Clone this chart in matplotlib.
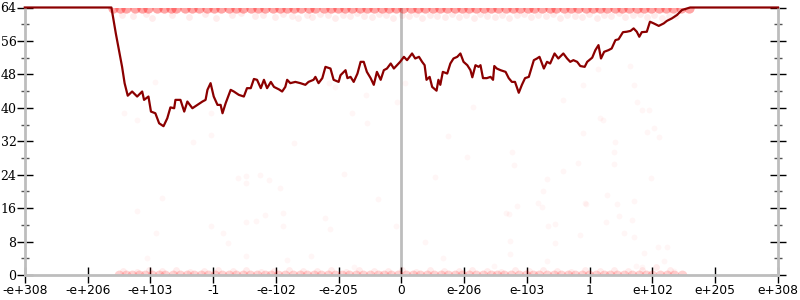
import matplotlib
matplotlib.use("Agg")
import matplotlib.pyplot as plt
from matplotlib.ticker import MultipleLocator

# ---- data (x in tick-position units: 0 .. 12) ----
tick_labels = ["-e+308", "-e+206", "-e+103", "-1", "-e-102", "-e-205", "0",
               "e-206", "e-103", "1", "e+102", "e+205", "e+308"]

line_x = [0.00, 1.38, 1.45, 1.50, 1.55, 1.59, 1.64, 1.71, 1.79, 1.87, 1.90, 1.97,
          2.01, 2.08, 2.14, 2.21, 2.27, 2.32, 2.38, 2.40, 2.48, 2.54, 2.59, 2.67,
          2.75, 2.83, 2.88, 2.91, 2.96, 3.01, 3.07, 3.12, 3.15, 3.20, 3.28, 3.33,
          3.41, 3.49, 3.54, 3.60, 3.65, 3.70, 3.76, 3.81, 3.86, 3.92, 3.97, 4.05,
          4.10, 4.15, 4.18, 4.23, 4.31, 4.39, 4.47, 4.52, 4.60, 4.63, 4.68, 4.74,
          4.79, 4.87, 4.92, 5.00, 5.03, 5.11, 5.14, 5.19, 5.24, 5.30, 5.35, 5.40,
          5.45, 5.51, 5.56, 5.61, 5.67, 5.72, 5.77, 5.83, 5.88, 5.93, 5.98, 6.04,
          6.09, 6.17, 6.22, 6.28, 6.33, 6.37, 6.40, 6.45, 6.49, 6.56, 6.59, 6.62,
          6.66, 6.73, 6.78, 6.83, 6.89, 6.94, 6.99, 7.05, 7.10, 7.13, 7.18, 7.23,
          7.26, 7.30, 7.36, 7.42, 7.46, 7.48, 7.52, 7.58, 7.66, 7.71, 7.76, 7.81,
          7.87, 7.92, 7.97, 8.03, 8.11, 8.16, 8.20, 8.24, 8.27, 8.32, 8.37, 8.44,
          8.50, 8.58, 8.64, 8.69, 8.74, 8.80, 8.85, 8.92, 8.96, 9.04, 9.09, 9.14,
          9.18, 9.23, 9.30, 9.35, 9.41, 9.46, 9.53, 9.59, 9.65, 9.70, 9.75, 9.79,
          9.83, 9.91, 9.96, 10.02, 10.10, 10.18, 10.23, 10.31, 10.39, 10.47, 10.60, 12.00]
line_y = [64, 64, 57.8, 53.8, 49.8, 45.9, 42.9, 43.9, 42.7, 43.9, 41.9, 42.7,
          39.1, 38.7, 36.3, 35.6, 37.5, 40.1, 39.9, 41.9, 41.9, 39.1, 41.5, 39.9,
          40.7, 41.5, 41.9, 44.3, 45.9, 42.7, 40.7, 40.7, 38.7, 41.1, 44.3, 43.9,
          43.1, 42.7, 44.7, 44.7, 46.9, 46.7, 44.7, 46.7, 44.7, 46.2, 45.0, 44.4,
          43.9, 45.0, 46.7, 45.9, 46.2, 45.9, 45.5, 46.2, 46.7, 47.4, 45.9, 47.1,
          49.8, 49.4, 46.7, 46.2, 47.8, 49.0, 47.1, 47.4, 46.2, 48.2, 51.0, 51.0,
          48.6, 47.1, 45.5, 48.6, 46.7, 49.0, 49.4, 50.6, 49.4, 50.2, 51.0, 52.2,
          51.4, 53.0, 51.8, 52.2, 51.0, 50.2, 46.7, 47.4, 45.0, 44.1, 46.7, 45.5,
          48.6, 48.2, 50.6, 51.8, 52.2, 53.0, 51.0, 50.2, 49.0, 47.3, 50.2, 49.8,
          50.2, 47.1, 47.1, 47.4, 46.7, 50.0, 49.4, 49.0, 48.6, 47.1, 46.2, 46.2,
          43.6, 45.5, 47.1, 47.4, 51.4, 51.8, 52.2, 50.6, 49.4, 51.0, 50.6, 53.0,
          51.8, 53.0, 51.8, 51.0, 51.4, 51.0, 50.0, 49.8, 51.0, 52.0, 53.8, 55.0,
          51.8, 53.4, 53.8, 54.2, 56.2, 56.4, 58.1, 58.2, 58.4, 59.0, 58.2, 57.0,
          58.1, 58.2, 60.6, 60.2, 59.6, 60.2, 60.8, 61.4, 62.2, 63.4, 64, 64]

# dense row of points at the top (error 64)
top_x = [1.40, 1.52, 1.61, 1.75, 1.86, 1.97, 2.10, 2.21, 2.33, 2.41, 2.55, 2.66,
         2.78, 2.90, 3.01, 3.12, 3.25, 3.36, 3.47, 3.60, 3.71, 3.82, 3.95, 4.06,
         4.18, 4.29, 4.40, 4.52, 4.63, 4.76, 4.88, 4.99, 5.10, 5.22, 5.34, 5.45,
         5.57, 5.69, 5.80, 5.92, 6.03, 6.15, 6.27, 6.38, 6.50, 6.61, 6.73, 6.85,
         6.96, 7.08, 7.19, 7.31, 7.43, 7.54, 7.66, 7.78, 7.89, 8.01, 8.12, 8.24,
         8.36, 8.47, 8.59, 8.70, 8.82, 8.94, 9.05, 9.17, 9.28, 9.40, 9.52, 9.63,
         9.75, 9.86, 9.98, 10.10, 10.21, 10.33, 10.45, 10.58]
top_y = [64] * len(top_x)

# fainter points just under the top
top2_x = [1.55, 1.72, 1.93, 2.02, 2.35, 2.61, 2.87, 3.05, 3.30, 3.44, 3.66, 3.79,
          3.98, 4.11, 4.26, 4.35, 4.49, 4.58, 4.71, 4.83, 4.95, 5.07, 5.18, 5.29,
          5.41, 5.53, 5.64, 5.76, 5.87, 6.01, 6.12, 6.24, 6.33, 6.46, 6.57, 6.69,
          6.80, 6.92, 7.03, 7.15, 7.26, 7.37, 7.49, 7.61, 7.72, 7.84, 7.95, 8.07,
          8.18, 8.30, 8.41, 8.53, 8.64, 8.76, 8.88, 8.99, 9.11, 9.22, 9.34, 9.46,
          9.57, 9.69, 9.80, 9.92, 10.03, 10.15, 10.27, 10.38]
top2_y = [62.3, 62.0, 62.4, 61.6, 62.2, 61.8, 62.5, 61.5, 62.1, 62.6, 61.9, 62.2,
          61.7, 62.4, 62.0, 61.5, 62.3, 61.8, 62.5, 62.1, 61.6, 62.3, 61.9, 62.6,
          62.0, 61.7, 62.4, 62.1, 61.5, 62.3, 61.9, 62.5, 61.6, 62.2, 62.0, 61.7,
          62.4, 61.8, 62.2, 61.6, 62.5, 62.0, 61.8, 62.3, 61.5, 62.1, 62.4, 61.7,
          62.2, 61.9, 62.5, 61.6, 62.3, 62.0, 61.8, 62.4, 61.5, 62.2, 61.9, 62.6,
          61.7, 62.1, 62.4, 61.8, 62.2, 61.6, 62.0, 61.9]

# dense row of points at the bottom (error 0)
bot_x = [1.50, 1.61, 1.70, 1.82, 1.91, 2.03, 2.14, 2.24, 2.36, 2.47, 2.58, 2.69,
         2.80, 2.92, 3.03, 3.14, 3.26, 3.37, 3.48, 3.59, 3.70, 3.82, 3.93, 4.04,
         4.15, 4.27, 4.38, 4.49, 4.60, 4.72, 4.83, 4.94, 5.05, 5.17, 5.28, 5.39,
         5.50, 5.62, 5.73, 5.84, 5.95, 6.07, 6.18, 6.29, 6.40, 6.52, 6.63, 6.74,
         6.85, 6.97, 7.08, 7.19, 7.30, 7.42, 7.53, 7.64, 7.75, 7.87, 7.98, 8.09,
         8.20, 8.32, 8.43, 8.54, 8.65, 8.77, 8.88, 8.99, 9.10, 9.22, 9.33, 9.44,
         9.55, 9.67, 9.78, 9.89, 10.00, 10.12, 10.23, 10.35, 10.47]
bot_y = [0] * len(bot_x)

bot2_x = [1.57, 1.78, 1.98, 2.19, 2.41, 2.63, 2.85, 3.08, 3.31, 3.53, 3.76, 3.97,
          4.21, 4.43, 4.66, 4.88, 5.11, 5.33, 5.56, 5.78, 6.01, 6.23, 6.46, 6.68,
          6.91, 7.13, 7.36, 7.58, 7.81, 8.03, 8.26, 8.48, 8.71, 8.93, 9.16, 9.38,
          9.61, 9.83, 10.06, 10.28]
bot2_y = [1.0, 0.8, 1.2, 0.9, 1.1, 0.8, 1.0, 1.2, 0.9, 1.1, 0.8, 1.0,
          1.2, 0.9, 1.0, 1.1, 0.8, 1.2, 0.9, 1.0, 1.1, 0.8, 1.2, 1.0,
          0.9, 1.1, 1.0, 0.8, 1.2, 0.9, 1.1, 1.0, 0.8, 1.2, 0.9, 1.1,
          1.0, 1.3, 2.0, 1.2]

# sparse scattered points
mid_x = [1.78, 2.19, 2.09, 1.95, 2.96, 3.16, 3.23, 3.39, 3.53, 3.53, 3.75, 3.89,
         4.07, 3.52, 3.69, 3.82, 4.12, 4.12, 3.52, 4.17, 4.56, 4.79, 4.86, 5.09,
         5.63, 5.92, 5.25, 2.07, 1.58, 1.78, 2.97, 2.96, 2.68, 4.29, 4.84, 5.43,
         5.45, 5.22, 5.93, 4.94, 6.06, 7.14, 6.75, 8.58, 8.89, 9.14, 9.64, 9.70,
         9.75, 9.83, 9.94, 9.17, 9.21, 8.89, 10.03, 9.91, 10.10, 9.41, 7.05, 7.76,
         7.80, 9.39, 9.38, 8.81, 8.57, 6.54, 9.98, 8.32, 8.26, 9.27, 9.71, 8.17,
         8.24, 8.92, 8.94, 9.44, 9.46, 7.84, 7.67, 7.72, 9.67, 9.26, 8.34, 8.44,
         9.55, 8.85, 9.71, 7.73, 6.37, 8.44, 10.09, 10.23, 9.87, 6.66, 7.73, 8.32,
         10.19, 9.73, 9.84, 7.47, 10.35]
mid_y = [15.3, 18.5, 10.0, 4.1, 11.8, 10.0, 7.6, 23.1, 23.7, 22.1, 23.9, 22.7,
         20.7, 12.6, 13.0, 14.4, 14.8, 11.8, 4.5, 3.6, 4.6, 13.7, 11.0, 24.2,
         18.3, 11.8, 2.0, 46.2, 38.7, 37.2, 38.7, 33.4, 31.9, 31.5, 46.0, 43.1,
         36.3, 38.7, 41.5, 44.9, 45.9, 40.1, 33.3, 41.9, 45.5, 49.4, 50.0, 45.5,
         41.3, 39.5, 39.5, 37.5, 37.2, 34.0, 35.2, 34.3, 33.1, 31.9, 28.3, 29.5,
         26.3, 29.5, 26.6, 26.9, 24.9, 23.4, 23.1, 23.0, 20.2, 19.1, 17.7, 17.3,
         16.3, 17.3, 16.9, 17.0, 14.2, 16.6, 14.8, 14.6, 13.2, 12.8, 11.8, 12.1,
         10.1, 9.6, 9.2, 8.2, 8.0, 7.6, 6.6, 6.6, 5.2, 4.1, 5.0, 3.4,
         3.3, 2.2, 1.8, 2.2, 1.0]

# ---- figure ----
fig = plt.figure(figsize=(8, 3), dpi=100)
ax = fig.add_axes([0.031, 0.0833, 0.9415, 0.8917])

ax.set_xlim(0, 12)
ax.set_ylim(0, 64)

pt = dict(color="#ff0000", linewidths=0, zorder=2)
ax.scatter(mid_x, mid_y, s=18, alpha=0.035, **pt)
ax.scatter(top2_x, top2_y, s=24, alpha=0.07, **pt)
ax.scatter(bot2_x, bot2_y, s=24, alpha=0.07, **pt)
ax.scatter(top_x, top_y, s=55, alpha=0.35, **pt)
ax.scatter(bot_x, bot_y, s=50, alpha=0.18, **pt)

ax.plot(line_x, line_y, color="#8b0000", lw=1.6, zorder=4,
        solid_joinstyle="round", clip_on=False)

ax.axvline(6, color="#bdbdbd", lw=2, zorder=1)

for s in ["left", "right", "bottom"]:
    ax.spines[s].set_color("#bdbdbd")
    ax.spines[s].set_linewidth(2)
ax.spines["top"].set_visible(False)

ax.set_xticks(range(len(tick_labels)))
ax.set_xticklabels(tick_labels)
ax.yaxis.set_major_locator(MultipleLocator(8))
ax.yaxis.set_minor_locator(MultipleLocator(4))

ax.tick_params(axis="x", direction="inout", length=11, width=1, color="black",
               pad=1, labelsize=8.8, labelfontfamily="DejaVu Sans")
ax.tick_params(axis="y", which="major", direction="inout", length=12, width=1,
               color="black", left=True, right=True, pad=0, labelsize=9,
               labelfontfamily="DejaVu Serif")
ax.tick_params(axis="y", which="minor", direction="inout", length=6, width=1,
               color="#555555", left=True, right=True)

fig.savefig("out.png", dpi=100)
